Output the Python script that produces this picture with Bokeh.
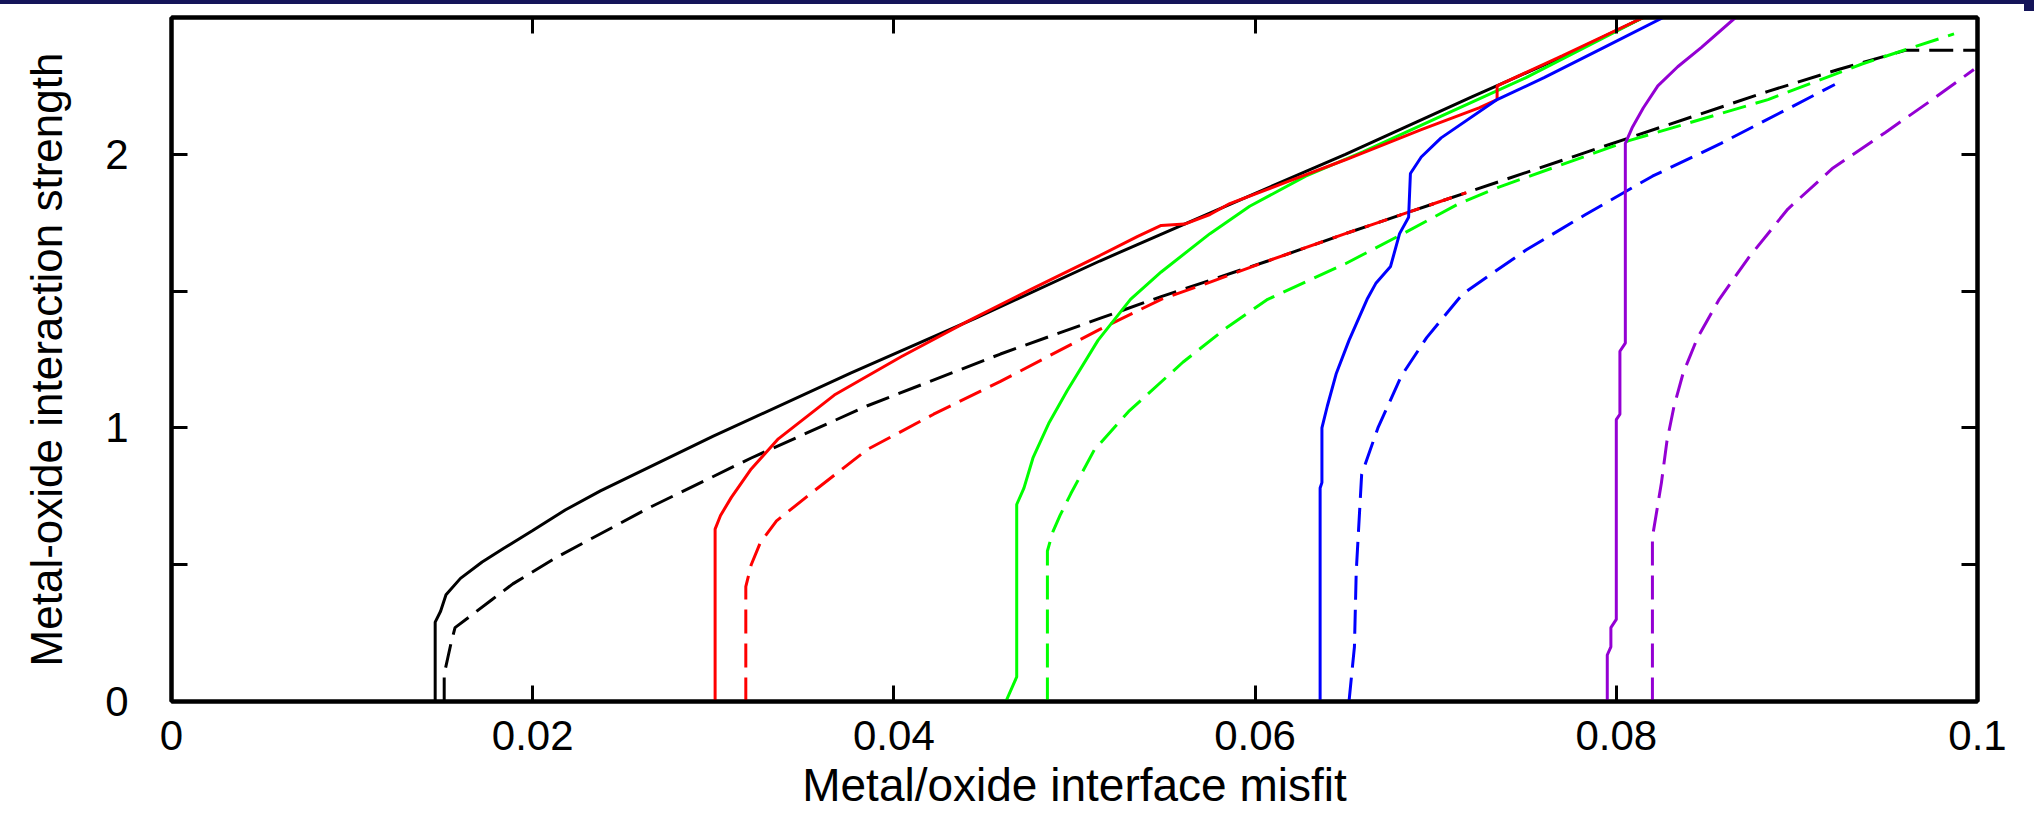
from bokeh.plotting import figure
from bokeh.models import FixedTicker, Range1d, LinearAxis, Div, Column, Row
from bokeh.embed import file_html
from bokeh.resources import INLINE

# ---------------- data ----------------
x_ticks = [0, 0.02, 0.04, 0.06, 0.08, 0.1]
x_tick_labels = ["0", "0.02", "0.04", "0.06", "0.08", "0.1"]
y_ticks = [0, 1, 2]
y_minor_ticks = [0.5, 1.5]
y_tick_labels = ["0", "1", "2"]

black_solid_x = [0.0146, 0.0146, 0.0149, 0.0152, 0.0160, 0.0172, 0.0184, 0.0200, 0.0218, 0.02375,
                 0.0300, 0.0376, 0.0445, 0.0514, 0.0580, 0.0650, 0.0720, 0.0768, 0.0815]
black_solid_y = [0.0, 0.29, 0.33, 0.39, 0.45, 0.51, 0.56, 0.625, 0.70, 0.77,
                 0.97, 1.20, 1.40, 1.61, 1.80, 2.00, 2.21, 2.35, 2.50]

black_dash_x = [0.0151, 0.0151, 0.0153, 0.0155, 0.0157, 0.0167, 0.0177, 0.0189, 0.0214, 0.0265,
                0.0321, 0.0385, 0.0459, 0.0514, 0.0548, 0.0607, 0.0650, 0.0717, 0.0807, 0.0884,
                0.0923, 0.0960, 0.1000]
black_dash_y = [0.0, 0.10, 0.16, 0.22, 0.27, 0.32, 0.37, 0.43, 0.53, 0.71,
                0.89, 1.08, 1.27, 1.40, 1.48, 1.61, 1.71, 1.86, 2.06, 2.23,
                2.31, 2.38, 2.38]

red_solid_x = [0.0301, 0.0301, 0.0304, 0.0310, 0.0321, 0.0336, 0.0367, 0.0404, 0.0441, 0.0477,
               0.0514, 0.0535, 0.0548, 0.0561, 0.0575, 0.0586, 0.0618, 0.0650, 0.0692, 0.0724,
               0.0734, 0.0734, 0.0770, 0.0815]
red_solid_y = [0.0, 0.63, 0.68, 0.746, 0.85, 0.96, 1.12, 1.26, 1.39, 1.51,
               1.63, 1.70, 1.74, 1.745, 1.78, 1.82, 1.90, 1.98, 2.09, 2.17,
               2.20, 2.25, 2.36, 2.50]

red_dash_x = [0.0318, 0.0318, 0.0321, 0.0326, 0.0335, 0.0352, 0.0385, 0.0422, 0.0459, 0.0514,
              0.0548, 0.0574, 0.0607, 0.0650, 0.0717]
red_dash_y = [0.0, 0.42, 0.50, 0.58, 0.66, 0.75, 0.92, 1.05, 1.17, 1.36,
              1.47, 1.53, 1.61, 1.71, 1.86]

green_solid_x = [0.0462, 0.0468, 0.0468, 0.0472, 0.0477, 0.0486, 0.0496, 0.0513, 0.0531, 0.0548,
                 0.0575, 0.0597, 0.0628, 0.0660, 0.0700, 0.0750, 0.0815]
green_solid_y = [0.0, 0.09, 0.72, 0.78, 0.89, 1.02, 1.137, 1.32, 1.47, 1.57,
                 1.71, 1.81, 1.92, 2.01, 2.13, 2.28, 2.50]

green_dash_x = [0.0485, 0.0485, 0.0488, 0.0492, 0.0498, 0.0511, 0.0530, 0.0560, 0.0585, 0.0607,
                0.0650, 0.0682, 0.0713, 0.0735, 0.0807, 0.0884, 0.0936, 0.0987]
green_dash_y = [0.0, 0.55, 0.62, 0.68, 0.76, 0.92, 1.06, 1.24, 1.37, 1.47,
                1.60, 1.71, 1.82, 1.88, 2.05, 2.20, 2.33, 2.44]

blue_solid_x = [0.0636, 0.0636, 0.0637, 0.0637, 0.0640, 0.0645, 0.0652, 0.0662, 0.0667, 0.0675,
                0.0680, 0.0685, 0.0686, 0.0692, 0.0703, 0.0734, 0.0760, 0.0793, 0.0826]
blue_solid_y = [0.0, 0.78, 0.80, 1.00, 1.08, 1.20, 1.32, 1.47, 1.53, 1.59,
                1.71, 1.77, 1.93, 1.99, 2.06, 2.20, 2.28, 2.39, 2.50]

blue_dash_x = [0.0652, 0.0655, 0.0656, 0.0659, 0.0668, 0.0681, 0.0695, 0.0715, 0.0750, 0.0783,
               0.0820, 0.0858, 0.0921]
blue_dash_y = [0.0, 0.20, 0.475, 0.83, 1.00, 1.19, 1.33, 1.49, 1.65, 1.78,
               1.92, 2.04, 2.255]

purple_solid_x = [0.0795, 0.0795, 0.0797, 0.0797, 0.0800, 0.0800, 0.0802, 0.0802, 0.0805, 0.0805,
                  0.0809, 0.0815, 0.0823, 0.0834, 0.0847, 0.0866]
purple_solid_y = [0.0, 0.17, 0.20, 0.27, 0.30, 1.03, 1.05, 1.28, 1.31, 2.04,
                  2.10, 2.17, 2.25, 2.32, 2.39, 2.50]

purple_dash_x = [0.0820, 0.0820, 0.0822, 0.0825, 0.0828, 0.0832, 0.0837, 0.0845, 0.0857, 0.0873,
                 0.0895, 0.0920, 0.0949, 0.0975, 0.0998]
purple_dash_y = [0.0, 0.60, 0.68, 0.80, 0.95, 1.08, 1.20, 1.33, 1.47, 1.62,
                 1.80, 1.95, 2.08, 2.20, 2.31]

x_title = "Metal/oxide interface misfit"
y_title = "Metal-oxide interaction strength"

# ---------------- figure ----------------
FONT = "Liberation Sans"
W, H = 2034, 818
BAND = 4
CORNER_W = 10
NAVY = "#151559"

p = figure(width=W - CORNER_W, height=H - BAND, output_backend="svg", toolbar_location=None,
           x_range=Range1d(0, 0.1), y_range=Range1d(0, 2.5),
           min_border_left=171, min_border_right=57 - CORNER_W, min_border_top=17 - BAND,
           min_border_bottom=117, x_axis_location=None, y_axis_location=None)
p.grid.visible = False
p.background_fill_color = "white"
p.border_fill_color = "white"
p.outline_line_color = "black"
p.outline_line_width = 4

xt = FixedTicker(ticks=x_ticks, minor_ticks=[])
yt = FixedTicker(ticks=y_ticks, minor_ticks=y_minor_ticks)
x_over = {t: s for t, s in zip(x_ticks, x_tick_labels)}
y_over = {t: s for t, s in zip(y_ticks, y_tick_labels)}


def style_axis(ax, labels):
    ax.axis_line_color = "black"
    ax.axis_line_width = 4
    ax.major_tick_in = 16
    ax.major_tick_out = 0
    ax.minor_tick_in = 16
    ax.minor_tick_out = 0
    ax.major_tick_line_width = 3
    ax.minor_tick_line_width = 3
    ax.major_tick_line_color = "black"
    ax.minor_tick_line_color = "black"
    if labels:
        ax.major_label_text_font = FONT
        ax.major_label_text_font_size = "42px"
        ax.major_label_text_color = "black"
        ax.axis_label_text_font = FONT
        ax.axis_label_text_font_style = "normal"
        ax.axis_label_text_color = "black"
    else:
        ax.major_label_text_font_size = "0px"
        ax.major_label_standoff = 0


bottom = LinearAxis(ticker=xt, major_label_overrides=x_over, axis_label=x_title)
style_axis(bottom, True)
bottom.axis_label_text_font_size = "46px"
bottom.major_label_standoff = 19
bottom.axis_label_standoff = 6
p.add_layout(bottom, "below")

left = LinearAxis(ticker=yt, major_label_overrides=y_over, axis_label=y_title)
style_axis(left, True)
left.axis_label_text_font_size = "44px"
left.major_label_standoff = 43
left.axis_label_standoff = 31
p.add_layout(left, "left")

top = LinearAxis(ticker=xt, major_label_overrides={t: "" for t in x_ticks})
style_axis(top, False)
p.add_layout(top, "above")

right = LinearAxis(ticker=yt, major_label_overrides={t: "" for t in y_ticks})
style_axis(right, False)
p.add_layout(right, "right")

# ---------------- curves ----------------
LW = 3
DASH = "24 10"
series = [
    (black_dash_x, black_dash_y, "black", DASH),
    (green_dash_x, green_dash_y, "#00ff00", DASH),
    (blue_dash_x, blue_dash_y, "#0000ff", DASH),
    (purple_dash_x, purple_dash_y, "#9400d3", DASH),
    (red_dash_x, red_dash_y, "#ff0000", DASH),
    (black_solid_x, black_solid_y, "black", "solid"),
    (green_solid_x, green_solid_y, "#00ff00", "solid"),
    (red_solid_x, red_solid_y, "#ff0000", "solid"),
    (blue_solid_x, blue_solid_y, "#0000ff", "solid"),
    (purple_solid_x, purple_solid_y, "#9400d3", "solid"),
]
for xs, ys, col, dash in series:
    p.line(xs, ys, line_color=col, line_width=LW, line_dash=dash)

# ---------------- slide decoration (navy band at top, small block at right) ----------------
band = Div(text="", width=W, height=BAND, margin=(0, 0, 0, 0),
           styles={"background-color": NAVY})
corner = Div(text="", width=CORNER_W, height=H - BAND, margin=(0, 0, 0, 0),
             styles={"background": "linear-gradient(%s 0px, %s 7px, white 7px, white 100%%)" % (NAVY, NAVY)})

layout = Column(band, Row(p, corner, spacing=0, margin=(0, 0, 0, 0)),
                spacing=0, margin=(0, 0, 0, 0))

open("out.html", "w").write(file_html(layout, INLINE))
